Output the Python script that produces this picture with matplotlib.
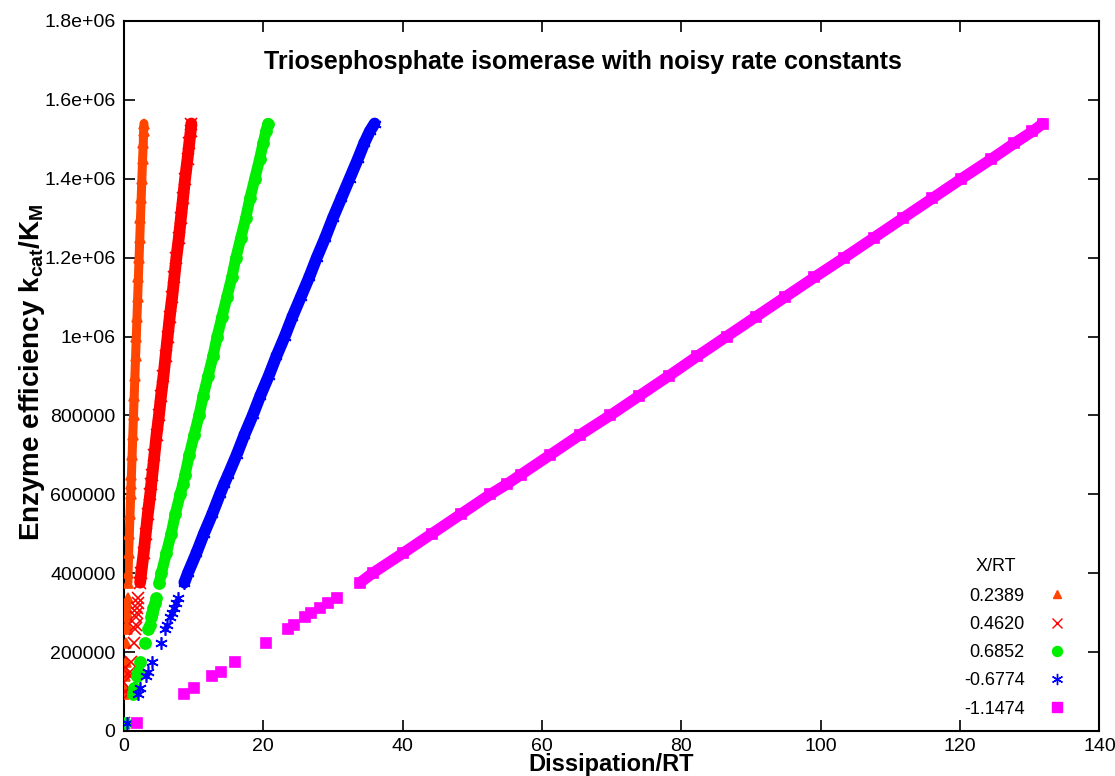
import numpy as np
import matplotlib
matplotlib.use('Agg')
import matplotlib.pyplot as plt

plt.rcParams['font.family'] = ['Liberation Sans', 'DejaVu Sans']
plt.rcParams['mathtext.fontset'] = 'custom'
plt.rcParams['mathtext.bf'] = 'Liberation Sans:bold'
plt.rcParams['mathtext.rm'] = 'Liberation Sans'

#  Enzyme efficiency levels (shared by all series), sparse low part and dense band
eff_low = [20000, 93000, 108000, 140000, 150000, 175000, 224000, 258000, 269000,
           288000, 298000, 311000, 325000, 338000]
eff_band = [376000, 400000, 450000, 500000, 550000, 600000, 626000, 650000, 700000,
            750000, 800000, 850000, 900000, 950000, 1000000, 1050000, 1100000,
            1150000, 1200000, 1250000, 1300000, 1350000, 1400000, 1450000,
            1490000, 1520000, 1540000]

#  Dissipation/RT for each X/RT value
x_0239_low = [0.0, 0.1, 0.15, 0.2, 0.25, 0.3, 0.35, 0.4, 0.42, 0.45, 0.47, 0.5, 0.52, 0.55]
x_0239_band = [0.6, 0.62, 0.7, 0.8, 0.9, 1.0, 1.05, 1.1, 1.2, 1.3, 1.4, 1.5, 1.6, 1.7,
               1.8, 1.9, 2.0, 2.1, 2.2, 2.3, 2.4, 2.5, 2.6, 2.7, 2.8, 2.85, 2.9]

x_0462_low = [0.1, 0.6, 0.7, 0.9, 0.95, 1.1, 1.4, 1.6, 1.7, 1.8, 1.9, 1.95, 2.05, 2.1]
x_0462_band = [2.35, 2.5, 2.85, 3.15, 3.45, 3.8, 3.95, 4.1, 4.4, 4.7, 5.05, 5.35, 5.7,
               6.0, 6.3, 6.6, 6.95, 7.25, 7.55, 7.9, 8.2, 8.5, 8.8, 9.15, 9.4, 9.6, 9.7]

x_0685_low = [0.2, 1.3, 1.5, 1.95, 2.1, 2.4, 3.0, 3.5, 3.7, 3.95, 4.1, 4.25, 4.45, 4.6]
x_0685_band = [5.1, 5.4, 6.1, 6.8, 7.4, 8.1, 8.5, 8.8, 9.4, 10.1, 10.8, 11.4, 12.1,
               12.8, 13.4, 14.1, 14.8, 15.5, 16.1, 16.8, 17.5, 18.1, 18.8, 19.5,
               20.0, 20.4, 20.7]

x_m0677_low = [0.4, 2.1, 2.4, 3.2, 3.5, 4.1, 5.4, 5.9, 6.2, 6.6, 6.9, 7.2, 7.5, 7.8]
x_m0677_band = [8.7, 9.2, 10.4, 11.5, 12.7, 13.8, 14.4, 15.0, 16.2, 17.3, 18.5, 19.6,
                20.8, 21.9, 23.1, 24.2, 25.4, 26.6, 27.7, 28.9, 30.0, 31.2, 32.4,
                33.6, 34.5, 35.3, 36.0]

x_m1147_low = [1.9, 8.7, 10.1, 12.7, 13.9, 15.9, 20.4, 23.5, 24.5, 26.0, 26.9, 28.1,
               29.3, 30.6]
x_m1147_band = [33.9, 35.7, 40.0, 44.2, 48.4, 52.6, 55.0, 57.0, 61.2, 65.4, 69.8, 74.0,
                78.2, 82.3, 86.5, 90.7, 94.9, 99.1, 103.4, 107.6, 111.8, 116.0, 120.2,
                124.5, 127.8, 130.4, 131.9]

labels = ['0.2389', '0.4620', '0.6852', '-0.6774', '-1.1474']
colors = ['#ff4500', '#ff0000', '#00ee00', '#0000ff', '#ff00ff']
markers = ['^', 'x', 'o', (6, 2, 0), 's']
sizes = [7, 8, 8, 9, 7.5]
band_w = [6.5, 8.5, 8, 8.5, 8]
lows = [x_0239_low, x_0462_low, x_0685_low, x_m0677_low, x_m1147_low]
bands = [x_0239_band, x_0462_band, x_0685_band, x_m0677_band, x_m1147_band]

fig = plt.figure(figsize=(11.15, 7.76), dpi=100)
ax = fig.add_axes([0.111, 0.058, 0.875, 0.915])

for lo, bd, c, m, s, w, lab in zip(lows, bands, colors, markers, sizes, band_w, labels):
    ax.plot(bd, eff_band, color=c, linewidth=w, solid_capstyle='round', zorder=2)
    ax.plot(lo + bd, eff_low + eff_band, linestyle='none', marker=m, color=c,
            markersize=s, markeredgewidth=1.2, zorder=3)
    ax.plot([], [], linestyle='none', marker=m, color=c, markersize=s * 0.9,
            markeredgewidth=1.0, label=lab)

ax.set_xlim(0, 140)
ax.set_ylim(0, 1.8e6)
ax.set_xticks(np.arange(0, 141, 20))
yt = np.arange(0, 1.8e6 + 1, 2e5)
ax.set_yticks(yt)
ax.set_yticklabels(['0', '200000', '400000', '600000', '800000', '1e+06',
                    '1.2e+06', '1.4e+06', '1.6e+06', '1.8e+06'])
ax.tick_params(direction='in', length=8, width=1.2, top=True, right=True,
               labelsize=14, pad=6)
ax.tick_params(axis='x', pad=5)
for sp in ax.spines.values():
    sp.set_linewidth(1.5)

ax.text(0.471, 0.942, 'Triosephosphate isomerase with noisy rate constants',
        transform=ax.transAxes, ha='center', va='center', fontsize=18,
        fontweight='bold')
ax.set_xlabel('Dissipation/RT', fontsize=17, fontweight='bold')
ax.xaxis.set_label_coords(0.5, -0.0563)
ax.xaxis.label.set_va('baseline')
ax.set_ylabel(r'Enzyme efficiency k$_{\mathbf{cat}}$/K$_{\mathbf{M}}$', fontsize=20,
              fontweight='bold')
ax.yaxis.set_label_coords(-0.094, 0.505)
ax.yaxis.label.set_va('center')

leg = ax.legend(loc='lower right', frameon=False, markerfirst=False,
                fontsize=13, handletextpad=0.8, labelspacing=0.62,
                bbox_to_anchor=(0.992, -0.004))
for t in leg.texts:
    t.set_ha('right')
ax.text(0.894, 0.231, 'X/RT', transform=ax.transAxes, ha='center', va='center',
        fontsize=13)

fig.savefig('out.png', dpi=100)
